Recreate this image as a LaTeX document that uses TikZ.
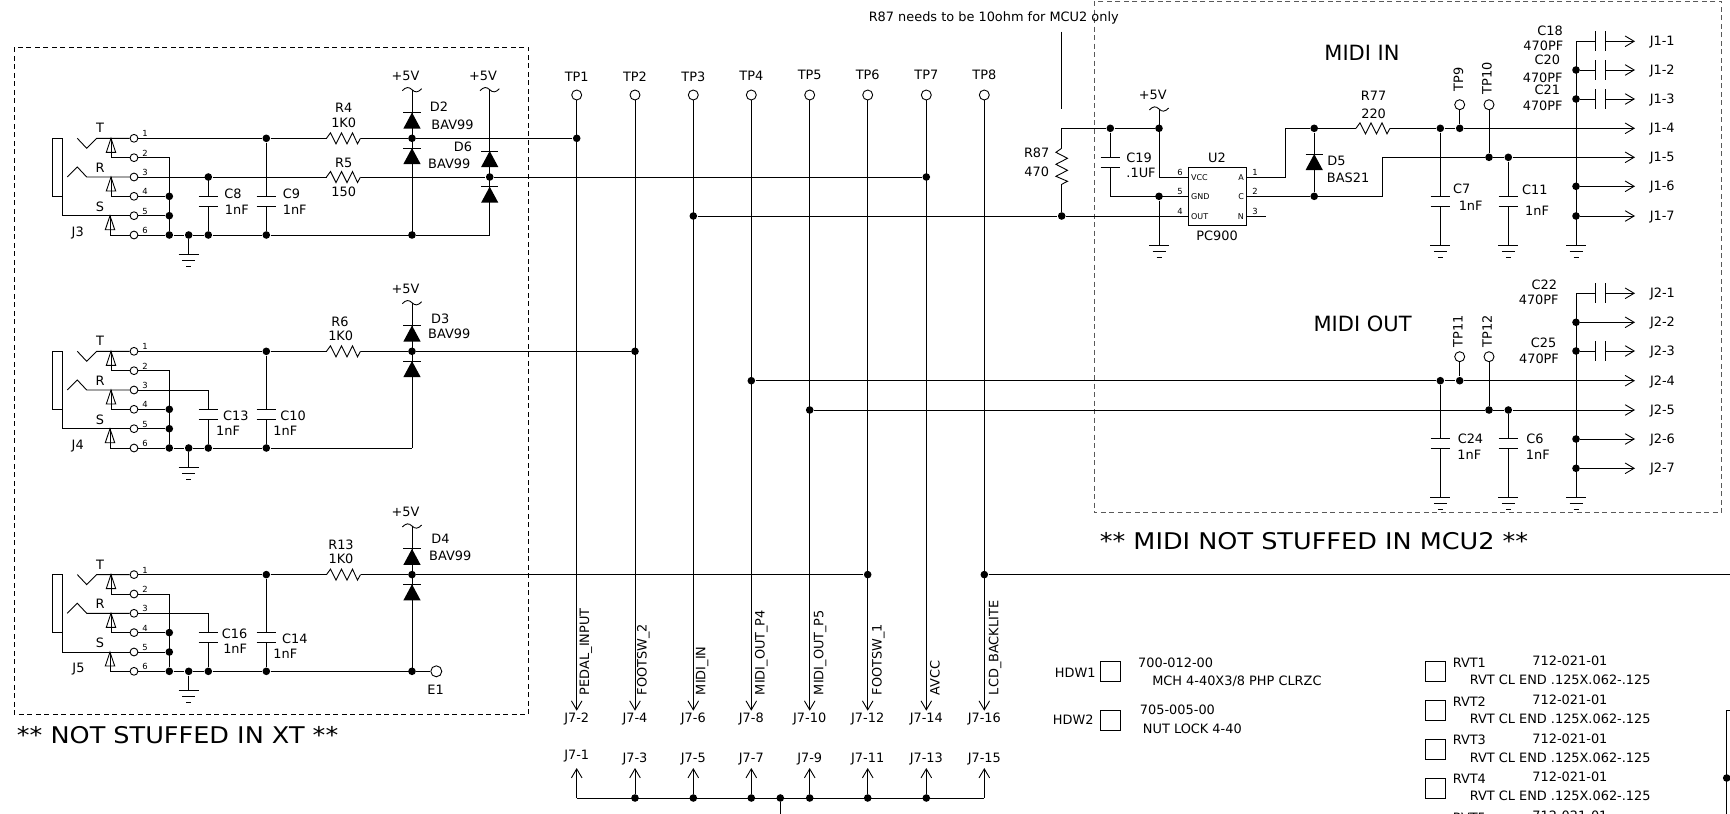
\documentclass[tikz,border=0pt]{standalone}
\usepackage{fontspec}
\setmainfont{DejaVu Sans}
\newfontfamily\widefont[FakeStretch=1.11]{DejaVu Sans}
\usetikzlibrary{arrows.meta}
\newcommand{\sz}[1]{\fontsize{#1}{#1}\selectfont}
\tikzset{
	dot/.style={circle,fill,minimum size=7.6pt},
	pin/.style={circle,draw,fill=white,minimum size=7.8pt},
	tpoint/.style={circle,draw,fill=white,minimum size=10pt},
	hole/.style={draw,minimum width=20.4pt,minimum height=19.8pt},
	pinnum/.style={font=\sz{8.4}},
	inchip/.style={font=\sz{8}},
	big/.style={font=\sz{21}},
	note/.style={font=\widefont\sz{23}},
	gnd/.pic={
		\draw (-10,0) -- (10,0);
		\draw (-6.5,6) -- (6.5,6);
		\draw (-2.5,12) -- (2.5,12);
	},
	supply/.pic={
		\draw (-9.7,1) .. controls (-6,-3) and (-3,-3) .. (0,0) .. controls (3,3) and (6,3) .. (9.7,-1);
	},
	capv/.pic={
		\draw (-9.7,-5) -- (9.7,-5);
		\draw (-9.7,5) -- (9.7,5);
		\coordinate (-t) at (0,-5);
		\coordinate (-b) at (0,5);
	},
	caph/.pic={
		\draw (-4.8,-10) -- (-4.8,10);
		\draw (4.8,-10) -- (4.8,10);
		\coordinate (-a) at (-4.8,0);
		\coordinate (-b) at (4.8,0);
	},
	resh/.pic={
		\draw (0,0) -- (4,-5.5) -- (9.5,5.5) -- (15,-5.5) -- (20.5,5.5) -- (26,-5.5) -- (31,5.5) -- (34,0);
		\coordinate (-a) at (0,0);
		\coordinate (-b) at (34,0);
	},
	resv/.pic={
		\draw (0,0) -- (-5.8,4) -- (5.8,10) -- (-5.8,16) -- (5.8,22) -- (-5.8,28) -- (5.8,33) -- (0,36);
		\coordinate (-a) at (0,0);
		\coordinate (-b) at (0,36);
	},
	diode/.pic={
		\draw (-8.6,0) -- (8.6,0);
		\fill (0,0) -- (-8.6,16) -- (8.6,16) -- cycle;
	},
	contact/.pic={
		\draw (0,0) -- (-4.7,14) -- (4.7,14) -- cycle;
	}
}
\begin{document}
\begin{tikzpicture}[x=1pt,y=-1pt,line width=0.9pt,>={Straight Barb[length=9pt,width=10.6pt]},every node/.style={inner sep=0pt,font=\sz{12.9}}]
	\useasboundingbox (0,0) rectangle (1730,814);
	\fill[white] (0,0) rectangle (1730,814);
	\draw[dash pattern=on 5pt off 3.5pt] (14.4,47.3) rectangle (528.7,714.3);
	\draw[dash pattern=on 5pt off 3.5pt,black!65] (1094,1) rectangle (1721.7,512.7);

	\foreach \jk/\dy in {j3/0,j4/213,j5/436.3} {
	\begin{scope}[shift={(0,\dy)}]
		\foreach \n/\y in {1/138.3,2/157.7,3/177,4/196.3,5/215.7,6/235} {
			\node[pin] at (134,\y) (\jk p\n) {};
			\node[pinnum] at (145,\y-4.5) (\jk n\n) {\n};
		}
		\node at (100,128) (\jk lt) {T};
		\node at (100,167.7) (\jk lr) {R};
		\node at (100,206.7) (\jk ls) {S};
		\draw (52.7,138.3) rectangle (62.7,196);
		\coordinate (\jk s) at (62.7,196);
		\draw (\jk s) |- (\jk p5);
		\coordinate (\jk u) at (96.7,138.3);
		\coordinate (\jk v) at (86.7,177);
		\draw (77.3,138.3) -- (86.7,148.3) -- (\jk u) -- (\jk p1);
		\draw (67.3,177) -- (77.3,167) -- (\jk v) -- (\jk p3);
		\draw (111,138.3) |- (\jk p2);
		\draw (111,177) |- (\jk p4);
		\draw (110,215.7) |- (\jk p6);
		\pic at (111,138.3) {contact};
		\pic at (111,177) {contact};
		\pic at (110,215.7) {contact};
		\node[dot] at (169.3,196.3) (\jk a) {};
		\node[dot] at (169.3,215.7) (\jk b) {};
		\node[dot] at (169.3,235) (\jk c) {};
		\node[dot] at (188.7,235) (\jk g) {};
		\node[dot] at (208.3,235) (\jk e) {};
		\node[dot] at (266.3,235) (\jk f) {};
		\node[dot] at (266.3,138.3) (\jk h) {};
		\node[dot] at (412,138.3) (\jk d) {};
		\coordinate (\jk k) at (169.3,157.7);
		\draw (\jk p2) -- (\jk k) -- (\jk c);
		\draw (\jk p4) -- (\jk a);
		\draw (\jk p5) -- (\jk b);
		\draw (\jk p6) -- (\jk c) -- (\jk g) -- (\jk e) -- (\jk f);
		\coordinate (\jk gb) at (188.7,254.3);
		\draw (\jk g) -- (\jk gb);
		\pic at (\jk gb) {gnd};
		\coordinate (\jk m) at (208.3,177);
		\pic (\jk cl) at (208.3,201) {capv};
		\pic (\jk cr) at (266.3,201) {capv};
		\draw (\jk p3) -- (\jk m) -- (\jk cl-t);
		\draw (\jk cl-b) -- (\jk e);
		\draw (\jk h) -- (\jk cr-t);
		\draw (\jk cr-b) -- (\jk f);
		\pic (\jk r) at (326.5,138.3) {resh};
		\draw (\jk p1) -- (\jk h) -- (\jk r-a);
		\draw (\jk r-b) -- (\jk d);
		\coordinate (\jk q) at (412,89.7);
		\coordinate (\jk z) at (412,235);
		\pic at (\jk q) {supply};
		\draw (\jk q) -- (\jk z);
		\draw (\jk f) -- (\jk z);
		\pic at (412,112.5) {diode};
		\pic at (412,148) {diode};
		\node at (405.5,76) (\jk vv) {+5V};
	\end{scope}
	}

	\node at (77.7,233) (lj3) {J3};
	\node at (77.7,446) (lj4) {J4};
	\node at (78.5,669.3) (lj5) {J5};
	\node[right] at (223.8,194) (lc8) {C8};
	\node[right] at (224.5,209.3) (lc8v) {1nF};
	\node[right] at (282.4,194) (lc9) {C9};
	\node[right] at (282.4,209.3) (lc9v) {1nF};
	\node at (343.7,108) (lr4) {R4};
	\node at (343.7,122.7) (lr4v) {1K0};
	\node at (343.7,163) (lr5) {R5};
	\node at (343.7,191.7) (lr5v) {150};
	\node[right] at (429.4,107) (ld2) {D2};
	\node[right] at (431,125) (ld2v) {BAV99};
	\node at (463,146.7) (ld6) {D6};
	\node[right] at (427.7,164) (ld6v) {BAV99};
	\node[right] at (222.7,415.3) (lc13) {C13};
	\node[right] at (215.7,430.7) (lc13v) {1nF};
	\node[right] at (280,415.3) (lc10) {C10};
	\node[right] at (273,430.7) (lc10v) {1nF};
	\node at (340,321.7) (lr6) {R6};
	\node at (340.7,335.7) (lr6v) {1K0};
	\node[right] at (430.7,318.7) (ld3) {D3};
	\node[right] at (427.7,334) (ld3v) {BAV99};
	\node[right] at (221.4,633.3) (lc16) {C16};
	\node[right] at (222.8,649) (lc16v) {1nF};
	\node[right] at (281.7,638.3) (lc14) {C14};
	\node[right] at (273,653.3) (lc14v) {1nF};
	\node at (341,544.3) (lr13) {R13};
	\node at (341,558.3) (lr13v) {1K0};
	\node[right] at (431,539) (ld4) {D4};
	\node[right] at (428.7,555.7) (ld4v) {BAV99};
	\node[right,note] at (16.5,735) (lnot) {** NOT STUFFED IN XT **};

	\node[dot] at (j3m) (j3w) {};
	\node[dot] at (j3z) (j3y) {};
	\node[dot] at (j5z) (j5y) {};
	\pic (r5) at (326.5,177) {resh};
	\node[dot] at (489.7,177) (d6m) {};
	\node[dot] at (926.3,177) (tp7d) {};
	\draw (j3w) -- (r5-a);
	\draw (r5-b) -- (d6m) -- (tp7d);
	\coordinate (d6q) at (489.7,89.7);
	\coordinate (d6z) at (489.7,235);
	\pic at (d6q) {supply};
	\draw (d6q) -- (d6z) -- (j3y);
	\pic at (489.7,151) {diode};
	\pic at (489.7,186.7) {diode};
	\node at (483,76) (d6v) {+5V};
	\node[pin,minimum size=11pt] at (436.3,671.3) (e1) {};
	\node at (435.6,689.3) (le1) {E1};
	\draw (j5y) -- (e1);

	\foreach \n/\x/\ly in {1/576.7/76.3,2/635/76.3,3/693.3/77,4/751.3/75.7,5/809.7/74.7,6/867.7/74.7,7/926.3/74.7,8/984.3/74.7} {
		\node[tpoint] at (\x,95) (tp\n) {};
		\node at (\x,\ly) (ltp\n) {TP\n};
		\coordinate (jt\n) at (\x,710.7);
		\draw[->] (tp\n) -- (jt\n);
	}
	\foreach \n/\lx/\t in {1/586/PEDAL\_INPUT,2/643.3/FOOTSW\_2,3/702.3/MIDI\_IN,4/761.3/MIDI\_OUT\_P4,5/820/MIDI\_OUT\_P5,6/878.3/FOOTSW\_1,7/935/AVCC,8/995/LCD\_BACKLITE} {
		\node[rotate=90,anchor=west] at (\lx,695.5) (sig\n) {\t};
	}
	\foreach \n/\x/\a/\b/\ya in {1/576.7/2/1/755.7,2/635/4/3/759.3,3/693.3/6/5/759.3,4/751.3/8/7/759.3,5/809.7/10/9/759.3,6/867.7/12/11/759.3,7/926.3/14/13/759.3,8/984.3/16/15/759.3} {
		\node at (\x,719.3) (la\n) {J7-\a};
		\node at (\x,\ya) (lb\n) {J7-\b};
		\coordinate (ju\n) at (\x,768);
	}
	\coordinate (bl) at (576.7,798);
	\coordinate (br) at (984.3,798);
	\draw[->] (bl) -- (ju1);
	\draw[->] (br) -- (ju8);
	\draw (bl) -- (br);
	\foreach \n/\x in {2/635,3/693.3,4/751.3,5/809.7,6/867.7,7/926.3} {
		\node[dot] at (\x,798) (bd\n) {};
		\draw[->] (bd\n) -- (ju\n);
	}
	\node[dot] at (780.3,798) (bdm) {};
	\coordinate (bdo) at (780.3,814);
	\draw (bdm) -- (bdo);

	\node[dot] at (576.7,138.3) (tp1d) {};
	\node[dot] at (635,351.3) (tp2d) {};
	\node[dot] at (693.3,216) (tp3d) {};
	\node[dot] at (751.3,380.7) (tp4d) {};
	\node[dot] at (809.7,410) (tp5d) {};
	\node[dot] at (867.7,574.6) (tp6d) {};
	\node[dot] at (984.3,574.6) (tp8d) {};
	\coordinate (bk) at (1730,574.6);
	\draw (j3d) -- (tp1d);
	\draw (j4d) -- (tp2d);
	\draw (j5d) -- (tp6d);
	\draw (tp8d) -- (bk);

	\node[right] at (868.3,17.7) (rnote) {R87 needs to be 10ohm for MCU2 only};
	\coordinate (notea) at (1061.7,31.7);
	\coordinate (noteb) at (1061.7,109);
	\draw (notea) -- (noteb);
	\pic (r87) at (1061.7,148.3) {resv};
	\node at (1036.7,153.3) (lr87) {R87};
	\node at (1036.7,172.3) (lr87v) {470};
	\coordinate (r87t) at (1061.7,128.3);
	\node[dot] at (1061.7,216) (r87d) {};
	\node[dot] at (1110.3,128.3) (c19d) {};
	\node[dot] at (1159,128.3) (vccd) {};
	\node[dot] at (1159,196.3) (gndd) {};
	\pic (c19) at (1110.3,162.5) {capv};
	\node[right] at (1126,158.3) (lc19) {C19};
	\node[right] at (1126,172.7) (lc19v) {.1UF};
	\draw (r87-b) -- (r87d);
	\draw (r87-a) -- (r87t) -- (c19d) -- (vccd);
	\draw (c19d) -- (c19-t);
	\coordinate (c19k) at (1110.3,196.3);
	\draw (c19-b) -- (c19k) -- (gndd);
	\coordinate (vcct) at (1159,109);
	\pic at (vcct) {supply};
	\node at (1152.7,95) (lvcc) {+5V};

	\node[draw,minimum width=58.7pt,minimum height=58.4pt] at (1217.3,196.5) (u2) {};
	\node at (1217,158.3) (lu2) {U2};
	\node at (1217,236) (lu2t) {PC900};
	\coordinate (u2p6) at (1188,177);
	\coordinate (u2p5) at (1188,196.3);
	\coordinate (u2p4) at (1188,216);
	\coordinate (u2p1) at (1246.7,177);
	\coordinate (u2p2) at (1246.7,196.3);
	\coordinate (u2p3) at (1246.7,216);
	\coordinate (u2e) at (1266,216);
	\node[pinnum] at (1180,172) (u2n6) {6};
	\node[pinnum] at (1180,191.7) (u2n5) {5};
	\node[pinnum] at (1180,211) (u2n4) {4};
	\node[pinnum] at (1255,172) (u2n1) {1};
	\node[pinnum] at (1255,191.7) (u2n2) {2};
	\node[pinnum] at (1255,211) (u2n3) {3};
	\node[inchip,right] at (1190.7,177.5) (u2vcc) {VCC};
	\node[inchip,right] at (1190.7,196.8) (u2gnd) {GND};
	\node[inchip,right] at (1190.7,216.5) (u2out) {OUT};
	\node[inchip,left] at (1244.3,177.5) (u2a) {A};
	\node[inchip,left] at (1244.3,196.8) (u2c) {C};
	\node[inchip,left] at (1244.3,216.5) (u2n) {N};
	\coordinate (vcck) at (1159,177);
	\draw (vcct) -- (vcck) -- (u2p6);
	\draw (c19k) -- (u2p5);
	\draw (tp3d) -- (r87d) -- (u2p4);
	\draw (u2p3) -- (u2e);
	\coordinate (u2g) at (1159,245);
	\draw (gndd) -- (u2g);
	\pic at (u2g) {gnd};

	\node[big] at (1362,53.3) (lin) {MIDI IN};
	\node[dot] at (1314.2,128.3) (d5t) {};
	\node[dot] at (1314.2,196.3) (d5b) {};
	\coordinate (u2k) at (1285.3,177);
	\coordinate (u2l) at (1285.3,128.3);
	\draw (u2p1) -- (u2k) -- (u2l) -- (d5t);
	\draw (u2p2) -- (d5b);
	\draw (d5t) -- (d5b);
	\pic at (1314.2,154) {diode};
	\node[right] at (1327,160.7) (ld5) {D5};
	\node[right] at (1326.5,178.3) (ld5v) {BAS21};
	\pic (r77) at (1356,128.3) {resh};
	\node at (1373.6,95.7) (lr77) {R77};
	\node at (1373.6,114) (lr77v) {220};
	\draw (d5t) -- (r77-a);

	\foreach \n/\y in {1/41.3,2/70,3/99,4/128.3,5/157.3,6/186.3,7/216} {
		\coordinate (ja\n) at (1635,\y);
		\node[right] at (1649.3,\y+1) (lja\n) {J1-\n};
	}
	\foreach \n/\y in {1/293.3,2/322.3,3/351,4/380.7,5/410,6/439,7/468.3} {
		\coordinate (jb\n) at (1635,\y);
		\node[right] at (1649.6,\y+1) (ljb\n) {J2-\n};
	}
	\node[dot] at (1440.3,128.3) (c7d) {};
	\node[dot] at (1459.7,128.3) (tp9d) {};
	\node[dot] at (1489,157.3) (tp10d) {};
	\node[dot] at (1508.3,157.3) (c11d) {};
	\coordinate (d5k) at (1382.4,196.3);
	\coordinate (d5l) at (1382.4,157.3);
	\draw[->] (r77-b) -- (c7d) -- (tp9d) -- (ja4);
	\draw[->] (d5b) -- (d5k) -- (d5l) -- (tp10d) -- (c11d) -- (ja5);
	\node[tpoint] at (1459.7,104.7) (tp9) {};
	\node[tpoint] at (1489,104.7) (tp10) {};
	\node[rotate=90] at (1458.3,79.3) (ltp9) {TP9};
	\node[rotate=90] at (1487,78.3) (ltp10) {TP10};
	\draw (tp9) -- (tp9d);
	\draw (tp10) -- (tp10d);
	\pic (c7) at (1440.3,201.2) {capv};
	\pic (c11) at (1508.3,201.2) {capv};
	\coordinate (c7g) at (1440.3,245);
	\coordinate (c11g) at (1508.3,245);
	\coordinate (j1g) at (1576,245);
	\draw (c7d) -- (c7-t);
	\draw (c7-b) -- (c7g);
	\draw (c11d) -- (c11-t);
	\draw (c11-b) -- (c11g);
	\pic at (c7g) {gnd};
	\pic at (c11g) {gnd};
	\pic at (j1g) {gnd};
	\node[right] at (1452.7,189.3) (lc7) {C7};
	\node[right] at (1458.3,205.7) (lc7v) {1nF};
	\node[right] at (1521.7,190.3) (lc11) {C11};
	\node[right] at (1524.7,210.3) (lc11v) {1nF};
	\coordinate (j1t) at (1576,41.3);
	\draw (j1t) -- (j1g);
	\pic (c18) at (1600.5,41.3) {caph};
	\pic (c20) at (1600.5,70) {caph};
	\pic (c21) at (1600.5,99) {caph};
	\node[dot] at (1576,70) (c20d) {};
	\node[dot] at (1576,99) (c21d) {};
	\node[dot] at (1576,186.3) (j16d) {};
	\node[dot] at (1576,216) (j17d) {};
	\draw (j1t) -- (c18-a);
	\draw (c20d) -- (c20-a);
	\draw (c21d) -- (c21-a);
	\draw[->] (c18-b) -- (ja1);
	\draw[->] (c20-b) -- (ja2);
	\draw[->] (c21-b) -- (ja3);
	\draw[->] (j16d) -- (ja6);
	\draw[->] (j17d) -- (ja7);
	\node at (1550,30.7) (lc18) {C18};
	\node at (1543.3,46) (lc18v) {470PF};
	\node at (1547.3,60) (lc20) {C20};
	\node at (1542.7,77.7) (lc20v) {470PF};
	\node at (1547.3,90.3) (lc21) {C21};
	\node at (1542.7,105.7) (lc21v) {470PF};

	\node[big] at (1362.6,324.3) (lout) {MIDI OUT};
	\node[dot] at (1440.3,380.7) (c24d) {};
	\node[dot] at (1459.7,380.7) (tp11d) {};
	\node[dot] at (1489,410) (tp12d) {};
	\node[dot] at (1508.3,410) (c6d) {};
	\draw[->] (tp4d) -- (c24d) -- (tp11d) -- (jb4);
	\draw[->] (tp5d) -- (tp12d) -- (c6d) -- (jb5);
	\node[tpoint] at (1459.7,356.7) (tp11) {};
	\node[tpoint] at (1489,356.7) (tp12) {};
	\node[rotate=90] at (1458,331) (ltp11) {TP11};
	\node[rotate=90] at (1487,331) (ltp12) {TP12};
	\draw (tp11) -- (tp11d);
	\draw (tp12) -- (tp12d);
	\pic (c24) at (1440.3,443.8) {capv};
	\pic (c6) at (1508.3,443.8) {capv};
	\coordinate (c24g) at (1440.3,497.3);
	\coordinate (c6g) at (1508.3,497.3);
	\coordinate (j2g) at (1576,497.3);
	\draw (c24d) -- (c24-t);
	\draw (c24-b) -- (c24g);
	\draw (c6d) -- (c6-t);
	\draw (c6-b) -- (c6g);
	\pic at (c24g) {gnd};
	\pic at (c6g) {gnd};
	\pic at (j2g) {gnd};
	\node[right] at (1457.3,439) (lc24) {C24};
	\node[right] at (1457,454.3) (lc24v) {1nF};
	\node[right] at (1526,439) (lc6) {C6};
	\node[right] at (1525.5,454.3) (lc6v) {1nF};
	\coordinate (j2t) at (1576,293.3);
	\draw (j2t) -- (j2g);
	\pic (c22) at (1600.5,293.3) {caph};
	\pic (c25) at (1600.5,351) {caph};
	\node[dot] at (1576,322.3) (j22d) {};
	\node[dot] at (1576,351) (c25d) {};
	\node[dot] at (1576,439) (j26d) {};
	\node[dot] at (1576,468.3) (j27d) {};
	\draw (j2t) -- (c22-a);
	\draw (c25d) -- (c25-a);
	\draw[->] (c22-b) -- (jb1);
	\draw[->] (j22d) -- (jb2);
	\draw[->] (c25-b) -- (jb3);
	\draw[->] (j26d) -- (jb6);
	\draw[->] (j27d) -- (jb7);
	\node at (1544.4,284.3) (lc22) {C22};
	\node at (1538.7,300) (lc22v) {470PF};
	\node at (1543.5,342.3) (lc25) {C25};
	\node at (1539,358.3) (lc25v) {470PF};
	\node[right,note] at (1099.4,541) (lmidi) {** MIDI NOT STUFFED IN MCU2 **};

	\node[hole] at (1110.7,671.7) (hdw1) {};
	\node[hole] at (1110.7,720.3) (hdw2) {};
	\node[left] at (1096,672.3) (lh1) {HDW1};
	\node[left] at (1094,719.3) (lh2) {HDW2};
	\node[right] at (1137.7,662.3) (lh1n) {700-012-00};
	\node[right] at (1151.8,681.7) (lh1d) {MCH 4-40X3/8 PHP CLRZC};
	\node[right] at (1139.5,709.3) (lh2n) {705-005-00};
	\node[right] at (1142.5,728.7) (lh2d) {NUT LOCK 4-40};
	\foreach \n/\y in {1/0,2/39,3/77.7,4/116.3} {
		\node[hole] at (1435.7,671.8+\y) (rvt\n) {};
		\node[right] at (1452.3,662.5+\y) (lrvt\n) {RVT\n};
		\node[right] at (1532,660.7+\y) (lrvtn\n) {712-021-01};
		\node[right] at (1469.3,679.7+\y) (lrvtd\n) {RVT CL END .125X.062-.125};
	}
	\node[right] at (1452.3,818.3) (lrvt5) {RVT5};
	\node[right] at (1532,815.5) (lrvtn5) {712-021-01};
	\coordinate (boxa) at (1730,710.7);
	\coordinate (boxb) at (1726.7,710.7);
	\coordinate (boxc) at (1726.7,814);
	\draw (boxa) -- (boxb) -- (boxc);
	\node[dot] at (1726.7,778) (boxd) {};
\end{tikzpicture}
\end{document}
